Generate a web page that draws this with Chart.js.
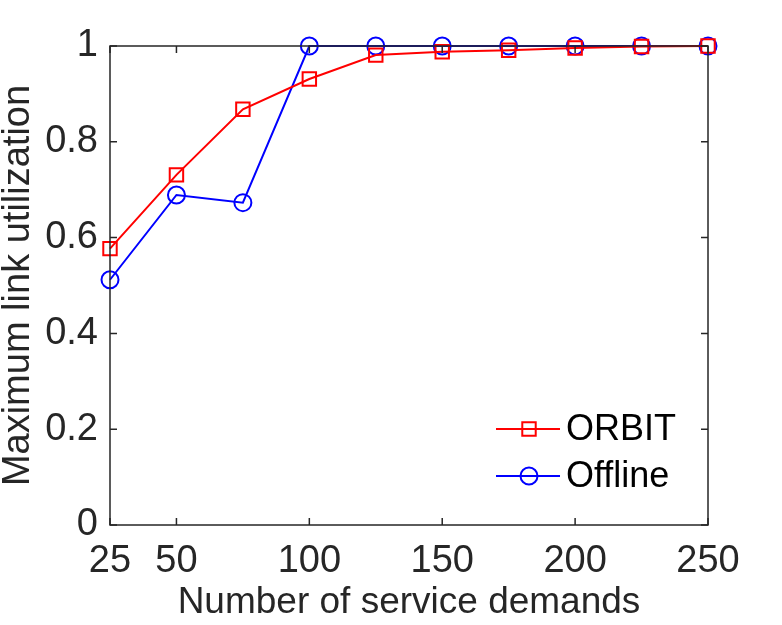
<!DOCTYPE html>
<html>
<head>
<meta charset="utf-8">
<script src="https://cdn.jsdelivr.net/npm/chart.js@4"></script>
<style>
  html, body { margin: 0; padding: 0; background: #fff; }
  #wrap { width: 782px; height: 625px; }
</style>
</head>
<body>
<div id="wrap"><canvas id="utilChart" width="782" height="625"></canvas></div>
<script>
const demands = [25, 50, 75, 100, 125, 150, 175, 200, 225, 250];
const orbitUtil = [0.577, 0.731, 0.868, 0.931, 0.981, 0.988, 0.991, 0.996, 0.999, 1.0];
const offlineUtil = [0.512, 0.689, 0.673, 1.0, 1.0, 1.0, 1.0, 1.0, 1.0, 1.0];
const xTickValues = [25, 50, 100, 150, 200, 250];
const yTickValues = [0, 0.2, 0.4, 0.6, 0.8, 1];

const fontFamily = "'Liberation Sans', Arial, sans-serif";
const axisColor = '#262626';

// matlab style box with inward ticks on all four sides
const boxPlugin = {
    id: 'boxPlugin',
    afterDraw(chart) {
        const ctx = chart.ctx;
        const a = chart.chartArea;
        const xs = chart.scales.x;
        const ys = chart.scales.y;
        const len = 7;
        ctx.save();
        ctx.strokeStyle = axisColor;
        ctx.lineWidth = 1.5;
        ctx.strokeRect(a.left, a.top, a.right - a.left, a.bottom - a.top);
        ctx.beginPath();
        xTickValues.forEach(v => {
            const px = xs.getPixelForValue(v);
            ctx.moveTo(px, a.bottom); ctx.lineTo(px, a.bottom - len);
            ctx.moveTo(px, a.top); ctx.lineTo(px, a.top + len);
        });
        yTickValues.forEach(v => {
            const py = ys.getPixelForValue(v);
            ctx.moveTo(a.left, py); ctx.lineTo(a.left + len, py);
            ctx.moveTo(a.right, py); ctx.lineTo(a.right - len, py);
        });
        ctx.stroke();
        ctx.restore();
    }
};

// legend inside the axes, no frame
const legendPlugin = {
    id: 'legendPlugin',
    afterDraw(chart) {
        const ctx = chart.ctx;
        const rows = [429, 476];
        ctx.save();
        chart.data.datasets.forEach((ds, i) => {
            const y = rows[i];
            ctx.strokeStyle = ds.borderColor;
            ctx.fillStyle = 'rgba(0,0,0,0)';
            ctx.lineWidth = 2;
            ctx.beginPath();
            ctx.moveTo(496, y); ctx.lineTo(560, y);
            ctx.stroke();
            Chart.helpers.drawPoint(ctx, {
                pointStyle: ds.pointStyle,
                radius: ds.pointRadius,
                borderWidth: 2
            }, 529, y);
            ctx.fillStyle = '#000';
            ctx.font = '36px ' + fontFamily;
            ctx.textBaseline = 'middle';
            ctx.textAlign = 'left';
            ctx.fillText(ds.label, 566, y + 1);
        });
        ctx.restore();
    }
};

const ctx = document.getElementById('utilChart').getContext('2d');
const utilChart = new Chart(ctx, {
    type: 'line',
    data: {
        labels: demands,
        datasets: [{
            label: 'ORBIT',
            data: demands.map((d, i) => ({ x: d, y: orbitUtil[i] })),
            borderColor: '#ff0000',
            backgroundColor: 'rgba(0,0,0,0)',
            borderWidth: 2,
            pointStyle: 'rect',
            pointRadius: 9.5,
            pointBorderWidth: 2,
            tension: 0
        }, {
            label: 'Offline',
            data: demands.map((d, i) => ({ x: d, y: offlineUtil[i] })),
            borderColor: '#0000ff',
            backgroundColor: 'rgba(0,0,0,0)',
            borderWidth: 2,
            pointStyle: 'circle',
            pointRadius: 8.5,
            pointBorderWidth: 2,
            tension: 0
        }]
    },
    options: {
        responsive: false,
        animation: false,
        clip: false,
        layout: {
            padding: { top: 46, right: 74, left: 0, bottom: 0 }
        },
        plugins: {
            legend: { display: false },
            tooltip: { enabled: false }
        },
        scales: {
            x: {
                type: 'linear',
                min: 25,
                max: 250,
                afterBuildTicks: s => { s.ticks = xTickValues.map(v => ({ value: v })); },
                afterFit: s => { s.height = 100; },
                grid: { display: false, drawTicks: false },
                border: { display: false },
                ticks: {
                    color: axisColor,
                    padding: 14,
                    maxRotation: 0,
                    autoSkip: false,
                    font: { size: 38, family: fontFamily }
                },
                title: {
                    display: true,
                    text: 'Number of service demands',
                    color: axisColor,
                    padding: { top: 0, bottom: 0 },
                    font: { size: 37, family: fontFamily }
                }
            },
            y: {
                min: 0,
                max: 1,
                afterBuildTicks: s => { s.ticks = yTickValues.map(v => ({ value: v })); },
                afterFit: s => { s.width = 110; },
                grid: { display: false, drawTicks: false },
                border: { display: false },
                ticks: {
                    color: axisColor,
                    padding: 12,
                    font: { size: 38, family: fontFamily },
                    callback: v => String(Math.round(v * 10) / 10)
                },
                title: {
                    display: true,
                    text: 'Maximum link utilization',
                    color: axisColor,
                    padding: { top: 0, bottom: 0 },
                    font: { size: 38, family: fontFamily, lineHeight: 1.0 }
                }
            }
        }
    },
    plugins: [boxPlugin, legendPlugin]
});
</script>
</body>
</html>
